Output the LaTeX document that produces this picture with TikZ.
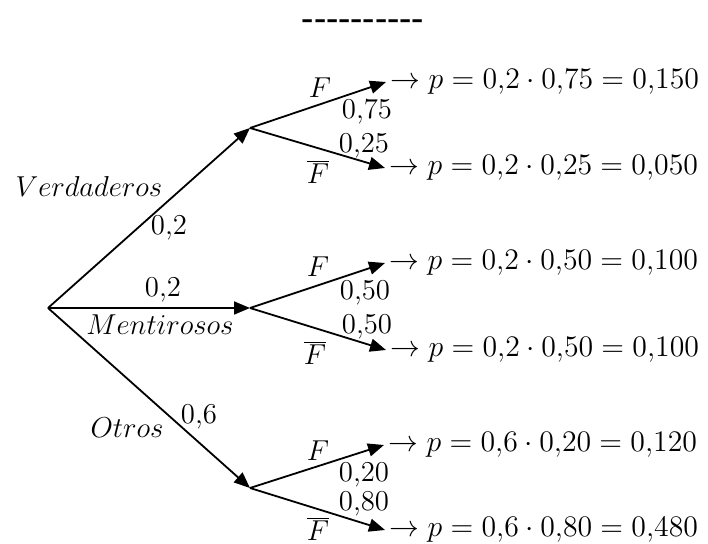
\documentclass[tikz,border=0pt]{standalone}
\usepackage{fontspec}
\usetikzlibrary{arrows.meta}
\newfontfamily\dashfont{Carlito}
\tikzset{
  branch/.style={-{Triangle[length=8pt,width=6.5pt]}, line width=0.9pt},
  lbl/.style={font=\fontsize{14.4}{16}\selectfont, inner sep=0pt},
  num/.style={font=\fontsize{14.4}{16}\selectfont, inner sep=0pt},
  res/.style={font=\fontsize{14.4}{17}\selectfont, anchor=west, inner sep=2pt, scale=1.035, transform shape},
}
\begin{document}
\begin{tikzpicture}[x=0.5pt,y=-0.5pt]
    \useasboundingbox (0,0) rectangle (708,544);

    % separator line on top
    \node[font=\dashfont\fontsize{20}{22}\selectfont, inner sep=0pt] (sep) at (363,26) {-{}-{}-{}-{}-{}-{}-{}-{}-{}-};

    % branch points
    \coordinate (root) at (48,308);
    \coordinate (ver) at (250,128);
    \coordinate (men) at (250,308);
    \coordinate (otr) at (250,488);

    % first level
    \draw[branch] (root) -- (ver);
    \draw[branch] (root) -- (men);
    \draw[branch] (root) -- (otr);
    \node[lbl] (lver) at (89,187) {$Verdaderos$};
    \node[num] (pver) at (169,228) {0,2};
    \node[num] (pmen) at (163,290) {0,2};
    \node[lbl] (lmen) at (160,325) {$Mentirosos$};
    \node[lbl] (lotr) at (127,428) {$Otros$};
    \node[num] (potr) at (199,417) {0,6};

    % second level: Verdaderos
    \coordinate (verF) at (386,82);
    \coordinate (verN) at (385,168);
    \draw[branch] (ver) -- (verF);
    \draw[branch] (ver) -- (verN);
    \node[lbl] at (320,88) {$F$};
    \node[num] at (367,112) {0,75};
    \node[num] at (364,146) {0,25};
    \node[lbl] at (318,172) {$\overline{F}$};
    \node[res] (rverF) at (verF) {$\rightarrow p = 0{,}2\cdot 0{,}75 = 0{,}150$};
    \node[res] (rverN) at (verN) {$\rightarrow p = 0{,}2\cdot 0{,}25 = 0{,}050$};

    % second level: Mentirosos
    \coordinate (menF) at (385,263);
    \coordinate (menN) at (386,350);
    \draw[branch] (men) -- (menF);
    \draw[branch] (men) -- (menN);
    \node[lbl] at (318,267) {$F$};
    \node[num] at (365,293) {0,50};
    \node[num] at (367,327) {0,50};
    \node[lbl] at (315,353) {$\overline{F}$};
    \node[res] (rmenF) at (menF) {$\rightarrow p = 0{,}2\cdot 0{,}50 = 0{,}100$};
    \node[res] (rmenN) at (menN) {$\rightarrow p = 0{,}2\cdot 0{,}50 = 0{,}100$};

    % second level: Otros
    \coordinate (otrF) at (384,445);
    \coordinate (otrN) at (385,530);
    \draw[branch] (otr) -- (otrF);
    \draw[branch] (otr) -- (otrN);
    \node[lbl] at (318,451) {$F$};
    \node[num] at (364,475) {0,20};
    \node[num] at (364,504) {0,80};
    \node[lbl] at (318,529) {$\overline{F}$};
    \node[res] (rotrF) at (otrF) {$\rightarrow p = 0{,}6\cdot 0{,}20 = 0{,}120$};
    \node[res] (rotrN) at (otrN) {$\rightarrow p = 0{,}6\cdot 0{,}80 = 0{,}480$};
\end{tikzpicture}
\end{document}
